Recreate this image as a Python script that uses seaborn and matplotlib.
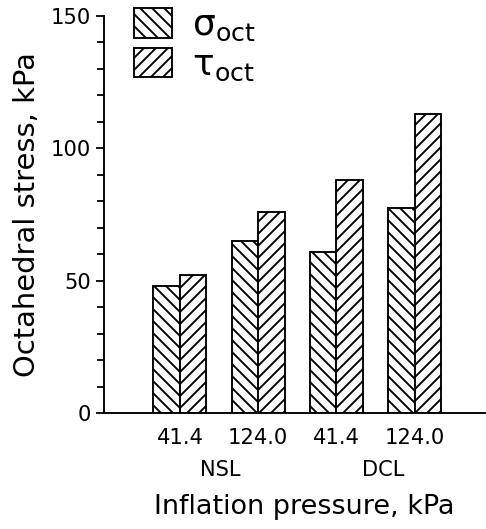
import pandas as pd
import numpy as np
import matplotlib.pyplot as plt
import seaborn as sns
from matplotlib.patches import Patch

# values
pressures = ['41.4', '124.0', '41.4', '124.0']
groups = ['NSL', 'NSL', 'DCL', 'DCL']
sigma_oct = [48, 65, 61, 77.5]
tau_oct = [52, 76, 88, 113]

sns.set_theme(style='ticks')
plt.rcParams['font.family'] = ['DejaVu Sans']
plt.rcParams['mathtext.fontset'] = 'custom'
plt.rcParams['mathtext.rm'] = 'DejaVu Sans'
plt.rcParams['mathtext.it'] = 'DejaVu Sans:italic'
plt.rcParams['hatch.linewidth'] = 1.9
for key in ['text.color', 'axes.labelcolor', 'xtick.color', 'ytick.color']:
    plt.rcParams[key] = 'black'

# drawn at 72 dpi so one point is one pixel (hatch spacing ~12 px)
DPI = 72
pos = [f'{g} {p}' for g, p in zip(groups, pressures)]
df = pd.DataFrame({
    'pos': pos * 2,
    'stress': sigma_oct + tau_oct,
    'kind': ['sigma'] * 4 + ['tau'] * 4,
})

fig = plt.figure(figsize=(486 / DPI, 529 / DPI), dpi=DPI)
ax = fig.add_axes([0.214, 0.219, 0.784, 0.751])

sns.barplot(data=df, x='pos', y='stress', hue='kind', order=pos,
            width=0.68, color='white', edgecolor='black', linewidth=1.9,
            errorbar=None, legend=False, ax=ax)

hatches = ['\\\\', '//']
for cont, h in zip(ax.containers, hatches):
    for bar in cont:
        bar.set_facecolor('white')
        bar.set_edgecolor('black')
        bar.set_hatch(h)

ax.set_ylim(0, 150)
ax.set_xlim(-0.97, 3.9)
ax.set_yticks([0, 50, 100, 150])
ax.set_yticks(np.arange(0, 151, 10), minor=True)
ax.set_xticks(range(4))
ax.set_xticklabels(pressures, fontsize=21)
ax.tick_params(axis='x', length=0, pad=15)
ax.tick_params(axis='y', which='major', length=8, width=1.8, labelsize=21,
               direction='out', pad=5)
ax.tick_params(axis='y', which='minor', length=7, width=1.8, direction='out')
for s in ['top', 'right']:
    ax.spines[s].set_visible(False)
for s in ['left', 'bottom']:
    ax.spines[s].set_linewidth(1.9)
    ax.spines[s].set_color('black')

ax.set_ylabel('Octahedral stress, kPa', fontsize=29, labelpad=10)
ax.set_xlabel('')
trans = ax.get_xaxis_transform()
ax.text(0.51, -0.143, 'NSL', transform=trans, ha='center', va='center', fontsize=21)
ax.text(2.6, -0.143, 'DCL', transform=trans, ha='center', va='center', fontsize=21)
ax.text(1.59, -0.235, 'Inflation pressure, kPa', transform=trans,
        ha='center', va='center', fontsize=27)

handles = [Patch(facecolor='white', edgecolor='black', hatch='\\\\', linewidth=1.9),
           Patch(facecolor='white', edgecolor='black', hatch='//', linewidth=1.9)]
labels = [r'$\mathrm{σ_{oct}}$', r'$\mathrm{τ_{oct}}$']
ax.legend(handles, labels, loc='upper left', bbox_to_anchor=(0.08, 1.02),
          frameon=False, fontsize=36, handlelength=1.03, handleheight=0.9,
          labelspacing=0.12, handletextpad=0.58, borderaxespad=0, borderpad=0)

fig.savefig('out.png', dpi=DPI)
